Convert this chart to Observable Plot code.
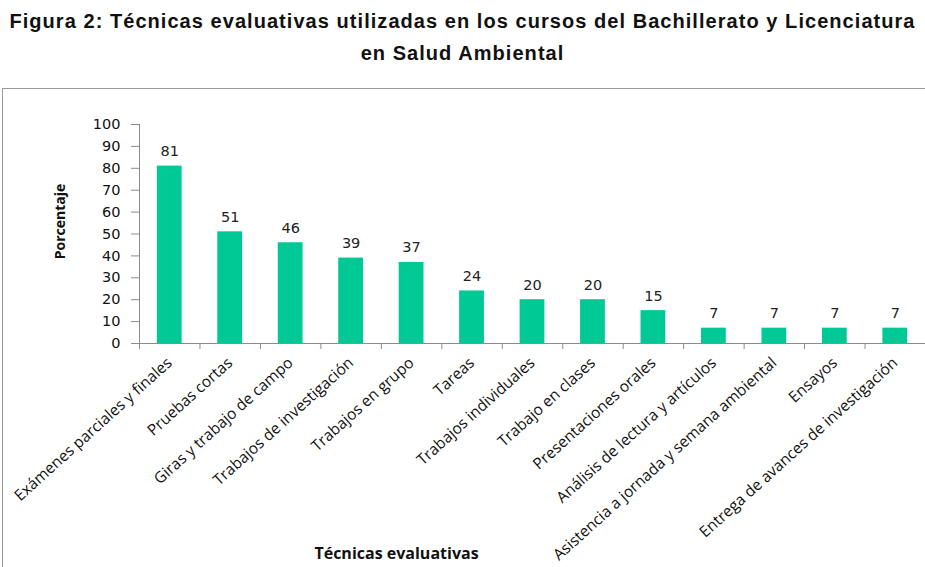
<!DOCTYPE html>
<html>
<head>
<meta charset="utf-8">
<script src="https://cdn.jsdelivr.net/npm/d3@7"></script>
<script src="https://cdn.jsdelivr.net/npm/@observablehq/plot@0.6"></script>
<style>
  html, body { margin: 0; padding: 0; background: #fff; width: 925px; height: 567px; overflow: hidden; }
  #title { position: absolute; left: 0; top: 0; width: 925px; text-align: center;
    font-family: "Liberation Sans", Arial, sans-serif; font-weight: bold; font-size: 20px;
    letter-spacing: 1.05px; color: #111; line-height: 32px; padding-top: 5px; white-space: nowrap; }
  #chart { position: absolute; left: 2px; top: 88px; width: 930px; height: 490px;
    border-top: 1px solid #9a9a9a; border-left: 1px solid #9a9a9a; }
  #chart svg { display: block; }
</style>
</head>
<body>
<div id="title">Figura 2: Técnicas evaluativas utilizadas en los cursos del Bachillerato y Licenciatura<br>en Salud Ambiental</div>
<div id="chart"></div>
<script>
const categories = [
  "Exámenes parciales y finales",
  "Pruebas cortas",
  "Giras y trabajo de campo",
  "Trabajos de investigación",
  "Trabajos en grupo",
  "Tareas",
  "Trabajos individuales",
  "Trabajo en clases",
  "Presentaciones orales",
  "Análisis de lectura y artículos",
  "Asistencia a jornada y semana ambiental",
  "Ensayos",
  "Entrega de avances de investigación"
];
const values = [81, 51, 46, 39, 37, 24, 20, 20, 15, 7, 7, 7, 7];
const yTicks = [0, 10, 20, 30, 40, 50, 60, 70, 80, 90, 100];
const yLabel = "Porcentaje";
const xLabel = "Técnicas evaluativas";

const data = categories.map((c, i) => ({cat: c, val: values[i]}));

const W = 922, H = 479, mL = 136, mR = 0, mT = 35, mB = 225;
const step = (W - mL - mR) / categories.length;
const axisColor = "#8c8c8c";
const barColor = "#00C995";
const numFont = "DejaVu Sans, Verdana, sans-serif";
const catFont = "'Open Sans', Lato, sans-serif";

const plot = Plot.plot({
  width: W,
  height: H,
  marginLeft: mL,
  marginRight: mR,
  marginTop: mT,
  marginBottom: mB,
  style: {background: "#fff", overflow: "visible"},
  x: {domain: categories, paddingInner: 0.59, paddingOuter: 0.295, round: false, axis: null},
  y: {domain: [0, 100], axis: null},
  marks: [
    Plot.barY(data, {x: "cat", y: "val", fill: barColor}),
    // y axis line (at left edge of first band)
    Plot.ruleX([categories[0]], {x: d => d, dx: -step / 2, y1: 0, y2: 100, stroke: axisColor}),
    Plot.axisY({ticks: yTicks, tickSize: 8, tickPadding: 11, stroke: axisColor, fill: "#111",
      fontSize: 14.5, fontFamily: numFont, label: null, tickFormat: d => String(d)}),
    // x axis line
    Plot.ruleY([0], {stroke: axisColor}),
    // category boundary ticks
    Plot.ruleX(categories, {x: d => d, dx: -step / 2, y1: 0, y2: 0, insetBottom: -6, stroke: axisColor}),
    // value labels
    Plot.text(data, {x: "cat", y: "val", text: d => String(d.val), dy: -10, lineAnchor: "bottom",
      fontSize: 14.5, fontFamily: numFont, fill: "#222"}),
    // category labels
    Plot.text(data, {x: "cat", y: 0, text: "cat", rotate: -42, textAnchor: "end", lineAnchor: "middle",
      dx: 0, dy: 17, fontSize: 15.5, fontFamily: catFont, fill: "#111"}),
    // axis titles
    Plot.text([yLabel], {frameAnchor: "left", text: d => d, rotate: -90, textAnchor: "middle",
      dx: -79, dy: -12.5, fontSize: 14, fontWeight: "bold", fontFamily: catFont, fill: "#111"}),
    Plot.text([xLabel], {frameAnchor: "bottom-left", text: d => d, textAnchor: "middle", lineAnchor: "middle",
      dx: 257, dy: 210, fontSize: 16, fontWeight: "bold", fontFamily: catFont, fill: "#111"})
  ]
});
document.getElementById("chart").appendChild(plot);
</script>
</body>
</html>
